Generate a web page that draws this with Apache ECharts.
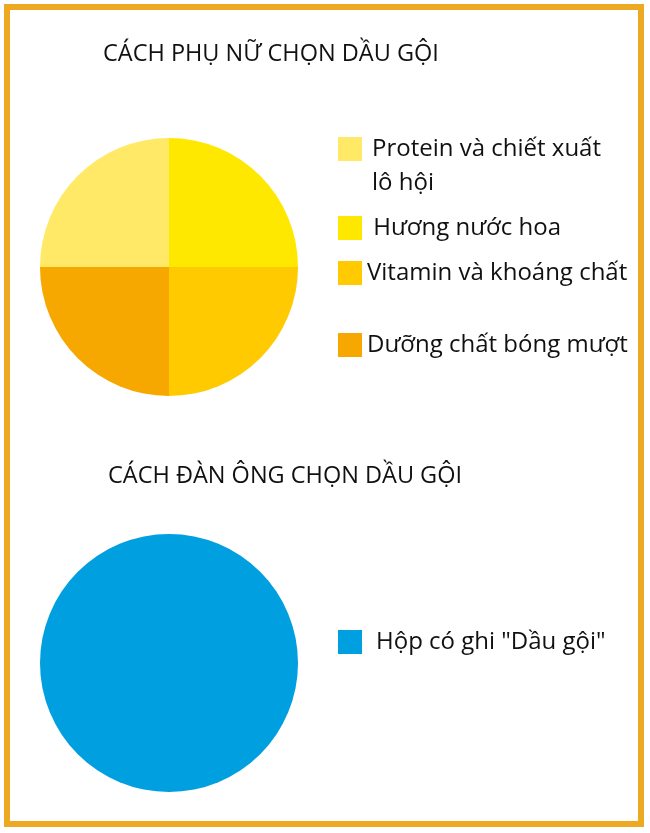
<!DOCTYPE html>
<html>
<head>
<meta charset="utf-8">
<style>
  html, body { margin: 0; padding: 0; background: #ffffff; }
  #chart { width: 650px; height: 833px; }
</style>
<script src="https://cdn.jsdelivr.net/npm/echarts@6/dist/echarts.min.js"></script>
</head>
<body>
<div id="chart"></div>
<script>
// ---- Data ----
var womenTitle = 'CÁCH PHỤ NỮ CHỌN DẦU GỘI';
var menTitle = 'CÁCH ĐÀN ÔNG CHỌN DẦU GỘI';
var womenCategories = ['Protein và chiết xuất', ' Hương nước hoa', 'Vitamin và khoáng chất', 'Dưỡng chất bóng mượt'];
var womenValues = [25, 25, 25, 25];
var womenColors = ['#FFE966', '#FFE800', '#FFCB00', '#F6A700'];
var menCategories = ['Hộp có ghi "Dầu gội"'];
var menValues = [100];
var menColors = ['#009FE0'];
var proteinSecondLine = 'lô hội';

var FONT = '"Open Sans", "Noto Sans", sans-serif';

var chart = echarts.init(document.getElementById('chart'), null, { renderer: 'canvas' });

function legendFor(name, top, textPad) {
  return {
    data: [name],
    orient: 'vertical',
    left: 333,
    top: top,
    padding: 5,
    icon: 'rect',
    itemWidth: 24,
    itemHeight: 24,
    selectedMode: false,
    textStyle: { fontFamily: FONT, fontSize: 24, color: '#111111', padding: [3, 0, 0, textPad] }
  };
}

var option = {
  backgroundColor: '#ffffff',
  animation: false,
  title: [
    { text: womenTitle, left: 98, top: 37, textStyle: { fontFamily: FONT, fontSize: 23.5, fontWeight: 'normal', color: '#111111' } },
    { text: menTitle, left: 103, top: 459, textStyle: { fontFamily: FONT, fontSize: 23.5, fontWeight: 'normal', color: '#111111' } }
  ],
  legend: [
    legendFor(womenCategories[0], 132, 5),
    legendFor(womenCategories[1], 211, 0),
    legendFor(womenCategories[2], 256, 0),
    legendFor(womenCategories[3], 328, 0),
    legendFor(menCategories[0], 625, 9)
  ],
  graphic: [
    {
      type: 'rect',
      shape: { x: 7, y: 7, width: 634, height: 817 },
      style: { fill: 'none', stroke: '#EDA922', lineWidth: 6 },
      silent: true
    },
    {
      type: 'text',
      left: 372,
      top: 171,
      style: { text: proteinSecondLine, font: '24px ' + FONT, fill: '#111111' },
      silent: true
    }
  ],
  series: [
    {
      type: 'pie',
      center: [169, 267],
      radius: [0, 129],
      startAngle: 180,
      clockwise: true,
      label: { show: false },
      labelLine: { show: false },
      emphasis: { disabled: true },
      silent: true,
      itemStyle: { borderWidth: 0 },
      data: womenCategories.map(function (n, i) {
        return { name: n, value: womenValues[i], itemStyle: { color: womenColors[i] } };
      })
    },
    {
      type: 'pie',
      center: [169, 663],
      radius: [0, 129],
      startAngle: 90,
      label: { show: false },
      labelLine: { show: false },
      emphasis: { disabled: true },
      silent: true,
      itemStyle: { borderWidth: 0 },
      data: menCategories.map(function (n, i) {
        return { name: n, value: menValues[i], itemStyle: { color: menColors[i] } };
      })
    }
  ]
};

chart.setOption(option);
</script>
</body>
</html>
